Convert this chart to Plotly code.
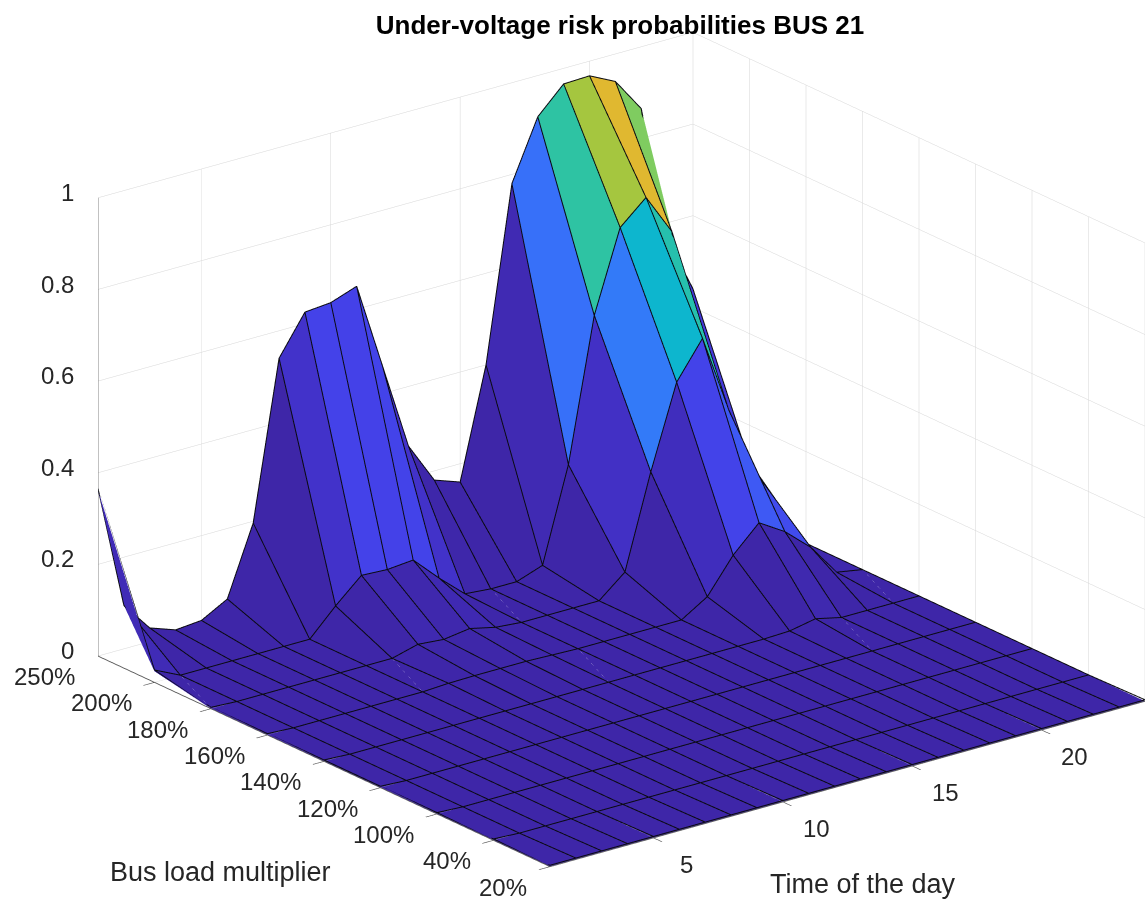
import plotly.graph_objects as go

hours = list(range(1, 25))
load_labels = ["20%", "40%", "100%", "120%", "140%", "160%", "180%", "200%", "250%"]
load_positions = [1, 2, 3, 4, 5, 6, 7, 8, 9]
hour_ticks = [5, 10, 15, 20]
z_ticks = [0, 0.2, 0.4, 0.6, 0.8, 1]
z_tick_labels = ["0", "0.2", "0.4", "0.6", "0.8", "1"]

zero = [0.0] * 24
row_20 = zero
row_40 = zero
row_100 = zero
row_120 = zero
row_140 = [0, 0, 0, 0, 0, 0, 0, 0, 0, 0, 0, 0, 0, 0, 0, 0, 0, 0, 0.002, 0.013, 0, 0, 0, 0]
row_160 = [0, 0, 0, 0, 0, 0, 0, 0.003, 0.004, 0.004, 0.004, 0.002, 0, 0, 0, 0, 0, 0.035, 0.11, 0.165, 0.13, 0.08, 0.01, 0]
row_180 = [0, 0, 0, 0, 0, 0, 0, 0, 0.015, 0.01, 0.018, 0.005, 0, 0, 0, 0, 0.047, 0.25, 0.43, 0.51, 0.34, 0.19, 0.05, 0]
row_200 = [0.024, 0, 0, 0, 0, 0, 0, 0.057, 0.108, 0.105, 0.11, 0.055, 0.005, 0, 0, 0.02, 0.224, 0.534, 0.71, 0.76, 0.67, 0.09, 0.08, 0.12]
row_250 = [0.363, 0.095, 0.03, 0.01, 0.015, 0.046, 0.196, 0.54, 0.625, 0.63, 0.65, 0.46, 0.27, 0.18, 0.16, 0.40, 0.78, 0.91, 0.966, 0.968, 0.94, 0.865, 0.567, 0.44]
rows = [row_20, row_40, row_100, row_120, row_140, row_160, row_180, row_200, row_250]

parula = [
    [0.0, "#3e26a8"], [0.05, "#4231c8"], [0.1, "#4440e8"], [0.2, "#3b68fa"],
    [0.3, "#2a8cf5"], [0.42, "#0ab4d2"], [0.53, "#2cc3a5"], [0.62, "#5fc97a"],
    [0.68, "#84cc5c"], [0.72, "#b0c435"], [0.76, "#e0b830"], [0.88, "#f8c92d"],
    [1.0, "#f9fb15"],
]

aspect = dict(x=1.684, y=1.656, z=1.10)
eye = dict(x=-0.737, y=-0.954, z=0.465)

n_r, n_t = len(rows), len(hours)
vx, vy, vz = [], [], []
for r in range(n_r):
    for t in range(n_t):
        vx.append(hours[t])
        vy.append(load_positions[r])
        vz.append(rows[r][t])

i, j, k, cell = [], [], [], []
for r in range(n_r - 1):
    for t in range(n_t - 1):
        a = r * n_t + t
        b = a + 1
        c = a + n_t
        d = c + 1
        i += [a, a]
        j += [b, d]
        k += [d, c]
        cell += [rows[r][t], rows[r][t]]

fig = go.Figure()
fig.add_trace(go.Mesh3d(
    x=vx, y=vy, z=vz, i=i, j=j, k=k,
    intensity=cell, intensitymode="cell", colorscale=parula, cmin=0, cmax=1,
    showscale=False, flatshading=True, hoverinfo="skip",
    lighting=dict(ambient=1, diffuse=0, specular=0, roughness=1, fresnel=0),
))

# Mesh edges: nudged towards the camera so they stay in front of the faces
# without moving on screen; boundary vertices only get a small upward lift.
s = 0.012
off_x = s * eye["x"] * 23 / aspect["x"]
off_y = s * eye["y"] * 8 / aspect["y"]
off_z = s * eye["z"] * 1 / aspect["z"]


def edge_vertex(r, t):
    if r == 0 or t == 0:
        return hours[t], load_positions[r], rows[r][t] + 0.003
    return hours[t] + off_x, load_positions[r] + off_y, rows[r][t] + off_z


lx, ly, lz = [], [], []
for r in range(n_r):
    for t in range(n_t):
        p = edge_vertex(r, t)
        lx.append(p[0]); ly.append(p[1]); lz.append(p[2])
    lx.append(None); ly.append(None); lz.append(None)
for t in range(n_t):
    for r in range(n_r):
        p = edge_vertex(r, t)
        lx.append(p[0]); ly.append(p[1]); lz.append(p[2])
    lx.append(None); ly.append(None); lz.append(None)
fig.add_trace(go.Scatter3d(x=lx, y=ly, z=lz, mode="lines",
                           line=dict(color="#0a0a10", width=2), hoverinfo="skip", showlegend=False))

TICK = dict(family="Liberation Sans", size=24, color="#262626")
common = dict(showbackground=False, gridcolor="#d6d6d6", gridwidth=1, showspikes=False,
              zeroline=False, showline=True, linecolor="#5a5a5a", linewidth=2,
              ticks="outside", ticklen=14, tickcolor="#555555", tickwidth=2,
              showticklabels=False, title=dict(text=""))

labels = []
for v, s_ in zip(z_ticks, z_tick_labels):
    labels.append(dict(x=1, y=9, z=v, text=s_, showarrow=False, xanchor="right", yanchor="middle",
                       xshift=-22, yshift=5, font=TICK))
for p_, s_ in zip(load_positions, load_labels):
    labels.append(dict(x=1, y=p_, z=0, text=s_, showarrow=False, xanchor="right", yanchor="middle",
                       xshift=-21, yshift=-21, font=TICK))
for v in hour_ticks:
    labels.append(dict(x=v, y=1, z=0, text=str(v), showarrow=False, xanchor="center", yanchor="middle",
                       xshift=33, yshift=-27, font=TICK))

W, H = 1145.0, 900.0
AXT = dict(family="Liberation Sans", size=27, color="#262626")
fig.update_layout(
    width=1145, height=900, margin=dict(l=0, r=0, t=0, b=0),
    paper_bgcolor="white", showlegend=False,
    title=dict(text="<b>Under-voltage risk probabilities BUS 21</b>", x=0.5415, y=0.972,
               xanchor="center", yanchor="middle",
               font=dict(family="Liberation Sans", size=26, color="black")),
    scene=dict(
        domain=dict(x=[0.086, 1.0], y=[0.005, 0.997]),
        xaxis=dict(range=[1, 24], tickvals=hour_ticks, **common),
        yaxis=dict(range=[1, 9], tickvals=load_positions, **common),
        zaxis=dict(range=[0, 1], tickvals=z_ticks, **common),
        aspectmode="manual", aspectratio=aspect,
        camera=dict(eye=eye, center=dict(x=0, y=0, z=0),
                    up=dict(x=0, y=0, z=1), projection=dict(type="orthographic")),
        annotations=labels,
    ),
    annotations=[
        dict(text="Bus load multiplier", x=220 / W, y=1 - 872 / H, xref="paper", yref="paper",
             xanchor="center", yanchor="middle", showarrow=False, font=AXT),
        dict(text="Time of the day", x=863 / W, y=1 - 884 / H, xref="paper", yref="paper",
             xanchor="center", yanchor="middle", showarrow=False, font=AXT),
    ],
)

fig.write_html("out.html", config=dict(displayModeBar=False), post_script="document.body.style.margin='0';")
